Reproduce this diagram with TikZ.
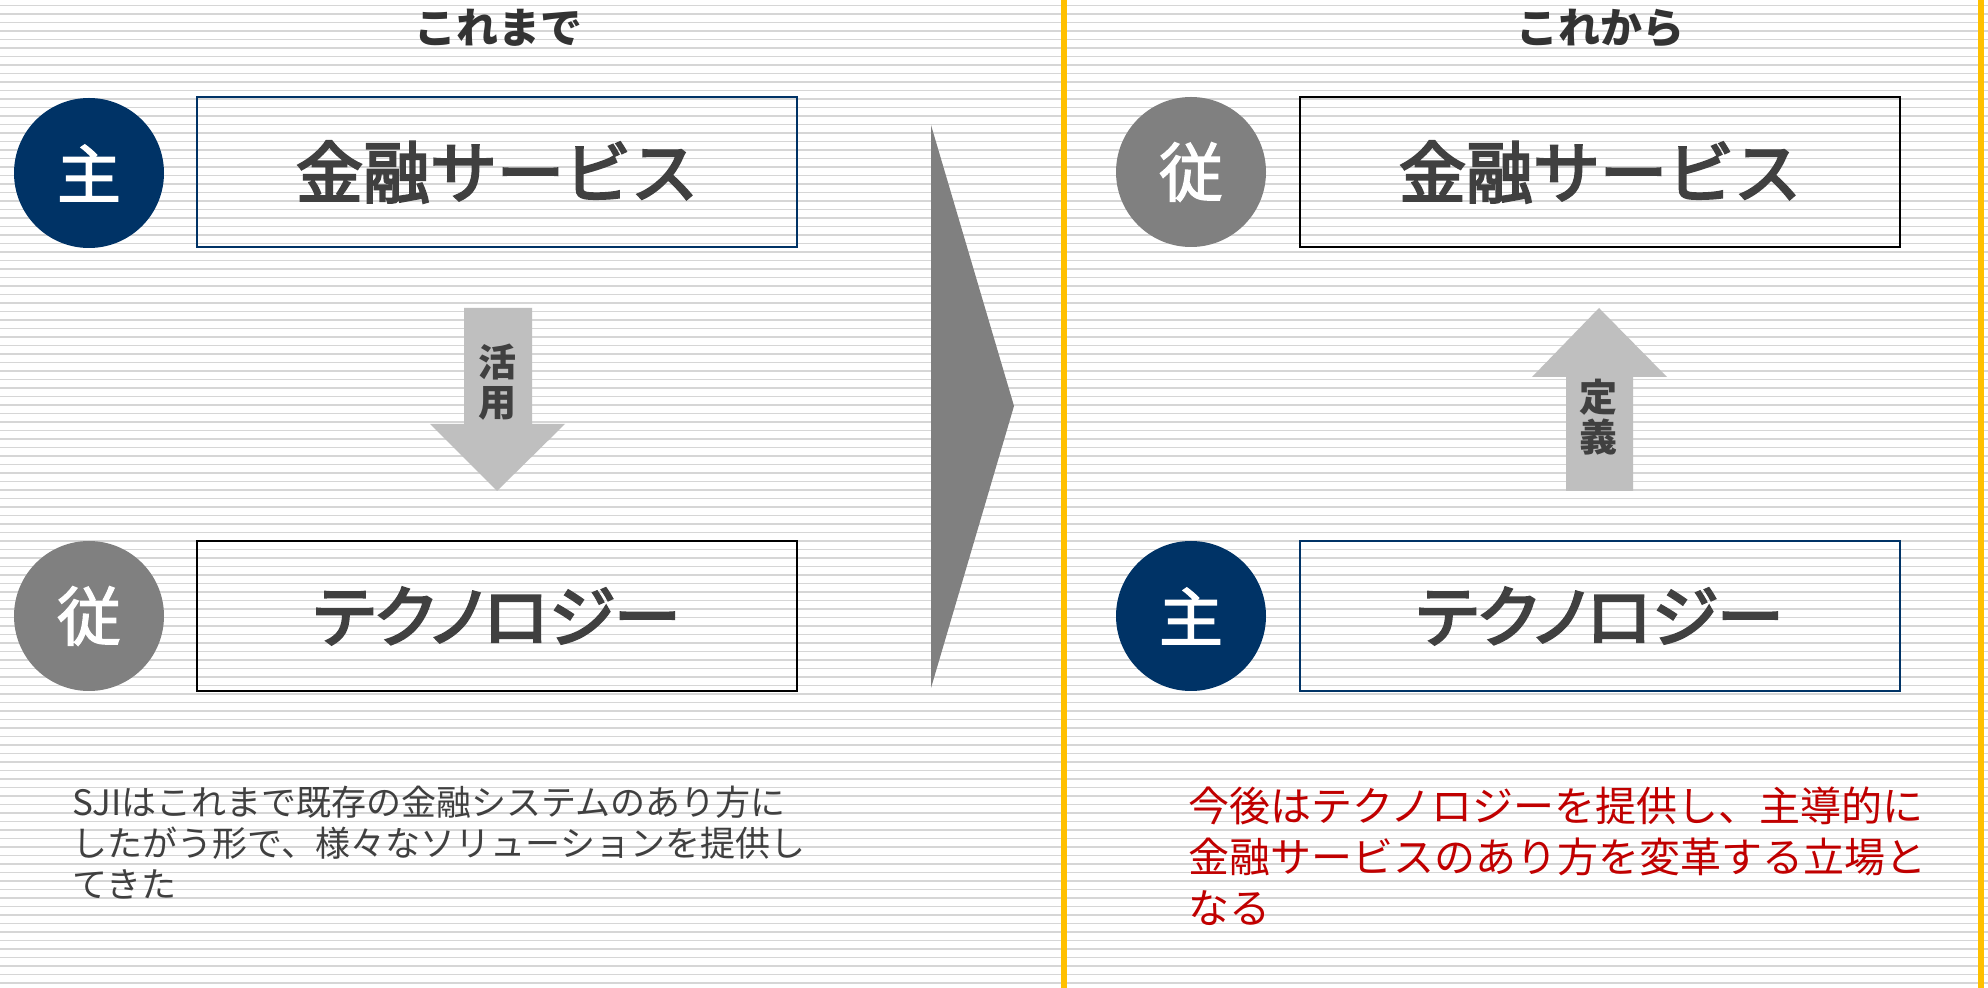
\documentclass[tikz,border=0pt]{standalone}
\usepackage{fontspec}
\setmainfont{Noto Sans CJK JP}
\newfontfamily\jp{Noto Sans CJK JP}
\newfontfamily\jpm{Noto Sans CJK JP}[FakeBold=3.5]
\newfontfamily\jpmp{Noto Sans CJK JP}[FakeBold=3.5,RawFeature=+palt]
\newfontfamily\jpc{Noto Sans CJK JP}[FakeBold=2]
\definecolor{navy}{HTML}{003366}
\definecolor{midgray}{HTML}{808080}
\definecolor{arrowgray}{HTML}{BFBFBF}
\definecolor{txtgray}{HTML}{404040}
\definecolor{titlegray}{HTML}{333333}
\definecolor{stripegray}{HTML}{D6D6D6}
\definecolor{gold}{HTML}{FFC000}
\definecolor{darkred}{HTML}{C00000}
\tikzset{
  stripe/.style={draw=stripegray, line width=0.75pt},
  divider/.style={draw=gold, line width=3pt},
  boxbase/.style={line width=1pt, minimum width=300pt, minimum height=75pt, inner sep=0pt, text=txtgray},
  bluebox/.style={boxbase, draw=navy},
  blackbox/.style={boxbase, draw=black},
  boxfont/.style={font=\jpm\fontsize{33.5}{40}\selectfont},
  boxfontp/.style={font=\jpmp\fontsize{33.5}{40}\selectfont},
  dotbase/.style={circle, minimum size=75pt, inner sep=0pt, text=white,
     font=\jpc\fontsize{32}{36}\selectfont},
  bluedot/.style={dotbase, fill=navy},
  graydot/.style={dotbase, fill=midgray},
  blockarrow/.style={fill=arrowgray},
  arrowlabel/.style={align=center, inner sep=0pt, text=txtgray,
     font=\jp\bfseries\fontsize{19}{20}\selectfont},
  heading/.style={inner sep=0pt, text=titlegray, font=\jp\bfseries\fontsize{21}{24}\selectfont},
  para/.style={align=left, inner sep=0pt, anchor=north west},
}
\newcommand{\lowered}[1]{\raisebox{-8pt}{#1}}
\begin{document}
\begin{tikzpicture}[x=0.5pt,y=-0.5pt]
\useasboundingbox (0,0) rectangle (1988,988);
\fill[white] (0,0) rectangle (1988,988);
% background stripes
\foreach \k in {0,...,115} \draw[stripe] (0,5.5+8.5*\k) -- (1988,5.5+8.5*\k);
% dividers
\draw[divider] (1064,0) -- (1064,988);
\draw[divider] (1981,0) -- (1981,988);

% headings
\node[heading] (h1) at (498,28) {これまで};
\node[heading] (h2) at (1600,28) {これから};

% left column
\node[bluedot] (c1) at (89,173) {主};
\node[bluebox, boxfont] (b1) at (497,172) {\lowered{金融サービス}};
\node[graydot] (c2) at (89,616) {従};
\node[blackbox, boxfontp] (b2) at (497,616) {\lowered{テクノロジー}};

% down arrow
\fill[blockarrow] (464,308) -- (532,308) -- (532,424) -- (565,424) -- (497,491) -- (430,424) -- (464,424) -- cycle;
\node[arrowlabel] (l1) at (497,382) {活\\用};

% big chevron
\fill[midgray] (931,125) -- (1014,406) -- (931,688) -- cycle;

% right column
\node[graydot] (c3) at (1191,172) {従};
\node[blackbox, boxfont] (b3) at (1600,172) {\lowered{金融サービス}};
\node[bluedot] (c4) at (1191,616) {主};
\node[bluebox, boxfontp] (b4) at (1600,616) {\lowered{テクノロジー}};

% up arrow
\fill[blockarrow] (1599,308) -- (1667,377) -- (1633,377) -- (1633,491) -- (1566,491) -- (1566,377) -- (1532,377) -- cycle;
\node[arrowlabel] (l2) at (1598,417) {定\\義};

% paragraphs
\node[para, text=txtgray, font=\jp\fontsize{17.5}{20.5}\selectfont] (p1) at (72,786)
  {SJIはこれまで既存の金融システムのあり方に\\したがう形で、様々なソリューションを提供し\\てきた};
\node[para, text=darkred, font=\jp\fontsize{20.5}{25.5}\selectfont] (p2) at (1188,786)
  {今後はテクノロジーを提供し、主導的に\\金融サービスのあり方を変革する立場と\\なる};
\end{tikzpicture}
\end{document}
